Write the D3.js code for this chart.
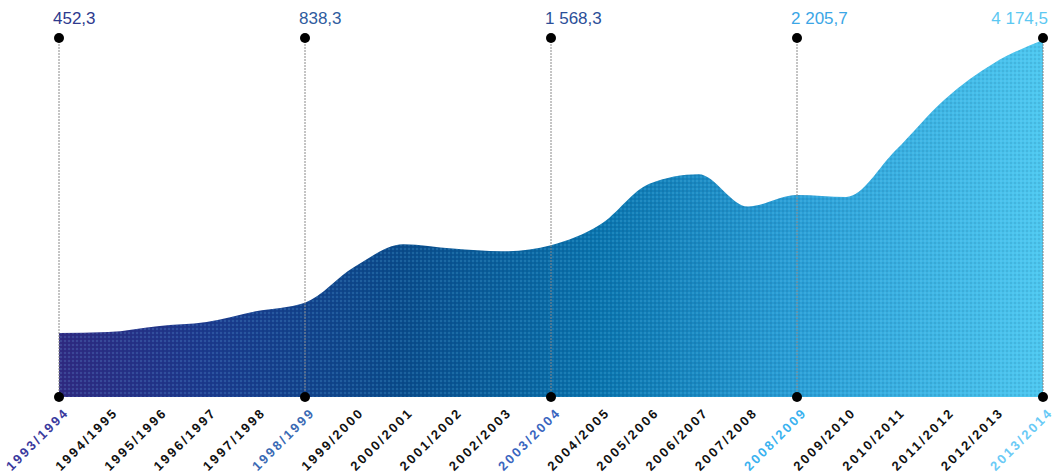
<!DOCTYPE html>
<html><head><meta charset="utf-8">
<script src="https://cdn.jsdelivr.net/npm/d3@7"></script>
<style>body{margin:0;background:#fff;}svg{display:block;}</style>
</head><body>
<svg id="chart" width="1057" height="476"></svg>
<script>
const categories = ["1993/1994","1994/1995","1995/1996","1996/1997","1997/1998","1998/1999","1999/2000","2000/2001","2001/2002","2002/2003","2003/2004","2004/2005","2005/2006","2006/2007","2007/2008","2008/2009","2009/2010","2010/2011","2011/2012","2012/2013","2013/2014"];
const values = [452.3,465,540,592,730,838.3,1290,1580,1525,1490,1568.3,1830,2350,2470,2060,2205.7,2180,2770,3420,3880,4174.5];
const highlighted = ["1993/1994","1998/1999","2003/2004","2008/2009","2013/2014"];
const highlightLabels = ["452,3","838,3","1 568,3","2 205,7","4 174,5"];
const highlightColors = ["#2e3a8e","#2f5c9e","#2c4f98","#3ba6e6","#5cc8f2"];
const axisLabelColors = ["#3a3a9e","#3a6ab4","#3a66c0","#3ab2f0","#6acaf6"];

const svg = d3.select("#chart");
const left = 59, right = 1043, baseY = 397, topY = 40;
const x = d3.scalePoint().domain(categories).range([left, right]);
const y = d3.scaleLinear().domain([-360, 4174.5]).range([baseY, topY]);

const defs = svg.append("defs");
const grad = defs.append("linearGradient").attr("id","g").attr("gradientUnits","userSpaceOnUse")
  .attr("x1", left).attr("x2", right).attr("y1",0).attr("y2",0);
[[0,"#302a82"],[0.15,"#1c3a8e"],[0.35,"#0a4c8c"],[0.55,"#0a74ae"],[0.75,"#2a9ed6"],[1,"#4ec8f0"]]
  .forEach(([o,c]) => grad.append("stop").attr("offset",o).attr("stop-color",c));
const pat = defs.append("pattern").attr("id","dots").attr("patternUnits","userSpaceOnUse").attr("width",4).attr("height",4);
pat.append("circle").attr("cx",1).attr("cy",1).attr("r",0.8).attr("fill","#7fd8ff").attr("opacity",0.35);
pat.append("circle").attr("cx",3).attr("cy",3).attr("r",0.7).attr("fill","#001a40").attr("opacity",0.25);

const area = d3.area()
  .x(d => x(d.c)).y0(baseY).y1(d => y(d.v))
  .curve(d3.curveMonotoneX);
const data = categories.map((c,i) => ({c, v: values[i]}));
svg.append("path").datum(data).attr("d", area).attr("fill","url(#g)");
svg.append("path").datum(data).attr("d", area).attr("fill","url(#dots)");

highlighted.forEach((c,i) => {
  const xp = x(c);
  svg.append("line").attr("x1",xp).attr("x2",xp).attr("y1",38).attr("y2",baseY)
    .attr("stroke","#8a8a8a").attr("stroke-width",1).attr("stroke-dasharray","2,1");
  svg.append("circle").attr("cx",xp).attr("cy",38).attr("r",5).attr("fill","#000");
  svg.append("circle").attr("cx",xp).attr("cy",baseY).attr("r",5).attr("fill","#000");
  const last = i === highlighted.length - 1;
  svg.append("text").attr("x", last ? xp + 5 : xp - 6).attr("y", 24)
    .attr("text-anchor", last ? "end" : "start")
    .attr("font-family","Liberation Sans, Arial, sans-serif")
    .attr("font-size",17).attr("fill",highlightColors[i]).text(highlightLabels[i]);
});

svg.append("g").selectAll("text").data(categories).join("text")
  .attr("transform", d => `translate(${x(d)+9},${baseY+18}) rotate(-45)`)
  .attr("text-anchor","end")
  .attr("font-family","Liberation Sans, Arial, sans-serif")
  .attr("font-size",13).attr("font-weight","bold")
  .attr("textLength",80).attr("lengthAdjust","spacing")
  .attr("fill", d => { const k = highlighted.indexOf(d); return k >= 0 ? axisLabelColors[k] : "#111"; })
  .text(d => d);
</script>
</body></html>
